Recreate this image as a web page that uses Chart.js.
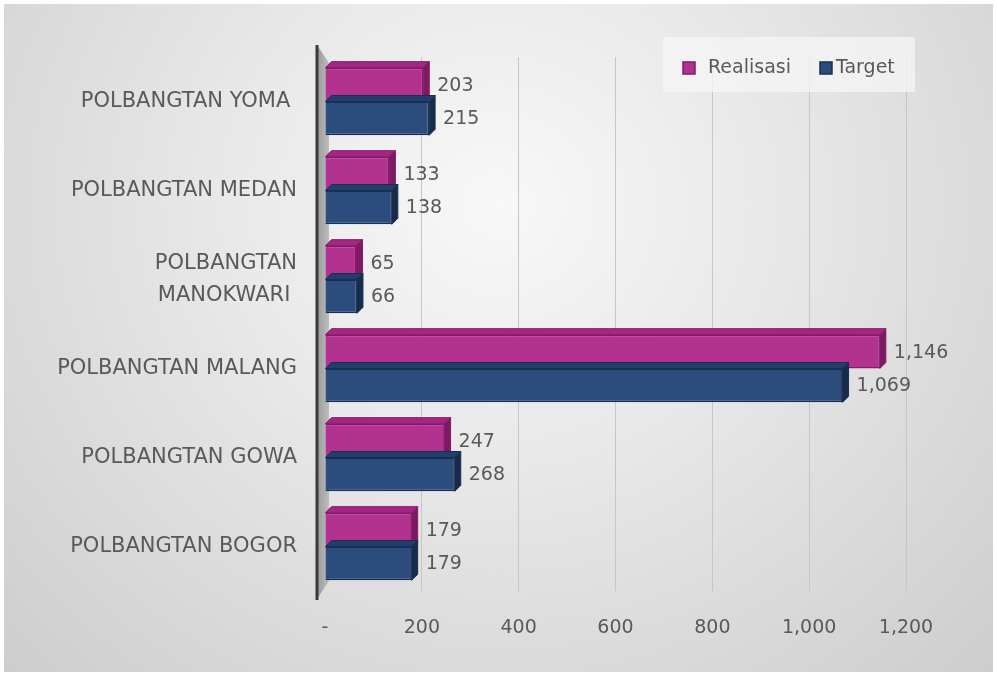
<!DOCTYPE html>
<html>
<head>
<meta charset="utf-8">
<script src="https://cdn.jsdelivr.net/npm/chart.js@4.4.1/dist/chart.umd.min.js"></script>
<style>
  html, body { margin: 0; padding: 0; background: #fff; }
  #wrap {
    position: absolute; left: 4px; top: 4px; width: 989px; height: 668px;
    background: radial-gradient(ellipse at 50% 30%, #f8f8f8 0%, #e8e8e8 40%, #cdcdcd 100%);
  }
  canvas { display: block; }
</style>
</head>
<body>
<div id="wrap"><canvas id="chart"></canvas></div>
<script>
// categories, top to bottom
const categories = [
  "POLBANGTAN YOMA ",
  "POLBANGTAN MEDAN",
  ["POLBANGTAN", "MANOKWARI "],
  "POLBANGTAN MALANG",
  "POLBANGTAN GOWA",
  "POLBANGTAN BOGOR"
];
const realisasi = [203, 133, 65, 1146, 247, 179];
const target = [215, 138, 66, 1069, 268, 179];
const xTicks = [0, 200, 400, 600, 800, 1000, 1200];

const seriesNames = ["Realisasi", "Target"];
const frontColors = ["#b3318f", "#2b4c7c"];
const borderColors = ["#86186a", "#172f52"];
const topColors = ["#a52682", "#213f6a"];
const sideColors = ["#7c1b62", "#172c4b"];

const FONT = "'DejaVu Sans', sans-serif";
const TEXT = "#595959";
const depth = { dx: 6, dy: -6 };

const fmt = v => v === 0 ? "-" : v.toLocaleString("en-US");

// side wall + dark axis line on the left of the plot
const wallPlugin = {
  id: "wall",
  beforeDatasetsDraw(chart) {
    const { ctx, chartArea: a } = chart;
    ctx.save();
    const g = ctx.createLinearGradient(a.left - 8, 0, a.left + 4, 0);
    g.addColorStop(0, "#9a9a9a");
    g.addColorStop(1, "#bdbdbd");
    ctx.fillStyle = g;
    ctx.beginPath();
    ctx.moveTo(a.left - 8, a.top - 12);
    ctx.lineTo(a.left + 4, a.top + 6);
    ctx.lineTo(a.left + 4, a.bottom - 10);
    ctx.lineTo(a.left - 8, a.bottom + 8);
    ctx.closePath();
    ctx.fill();
    ctx.strokeStyle = "#3a3a3a";
    ctx.lineWidth = 3;
    ctx.beginPath();
    ctx.moveTo(a.left - 8, a.top - 12);
    ctx.lineTo(a.left - 8, a.bottom + 9);
    ctx.stroke();
    ctx.restore();
  }
};

// top and side faces of each bar, then value labels
const bar3dPlugin = {
  id: "bar3d",
  afterDatasetsDraw(chart) {
    const ctx = chart.ctx;
    ctx.save();
    chart.data.datasets.forEach((ds, i) => {
      chart.getDatasetMeta(i).data.forEach(bar => {
        const p = bar.getProps(["x", "y", "base", "height"], true);
        const top = p.y - p.height / 2, bottom = p.y + p.height / 2;
        ctx.lineWidth = 1;
        ctx.strokeStyle = borderColors[i];
        ctx.fillStyle = topColors[i];
        ctx.beginPath();
        ctx.moveTo(p.base, top);
        ctx.lineTo(p.base + depth.dx, top + depth.dy);
        ctx.lineTo(p.x + depth.dx, top + depth.dy);
        ctx.lineTo(p.x, top);
        ctx.closePath();
        ctx.fill();
        ctx.stroke();
        ctx.fillStyle = sideColors[i];
        ctx.beginPath();
        ctx.moveTo(p.x, top);
        ctx.lineTo(p.x + depth.dx, top + depth.dy);
        ctx.lineTo(p.x + depth.dx, bottom + depth.dy);
        ctx.lineTo(p.x, bottom);
        ctx.closePath();
        ctx.fill();
        ctx.stroke();
      });
    });
    ctx.fillStyle = TEXT;
    ctx.font = "19px " + FONT;
    ctx.textAlign = "left";
    ctx.textBaseline = "middle";
    chart.data.datasets.forEach((ds, i) => {
      chart.getDatasetMeta(i).data.forEach((bar, j) => {
        const p = bar.getProps(["x", "y"], true);
        ctx.fillText(fmt(ds.data[j]), p.x + depth.dx + 8, p.y + 1);
      });
    });
    ctx.restore();
  }
};

// legend box in the top right corner
const legendPlugin = {
  id: "legendBox",
  afterDatasetsDraw(chart) {
    const { ctx, chartArea: a } = chart;
    ctx.save();
    const right = a.right + 9, top = a.top - 20;
    const left = right - 252;
    ctx.fillStyle = "rgba(245,245,245,0.75)";
    ctx.fillRect(left, top, 252, 55);
    ctx.font = "19px " + FONT;
    ctx.textBaseline = "middle";
    ctx.textAlign = "left";
    let x = left + 20;
    const cy = top + 31;
    seriesNames.forEach((name, i) => {
      ctx.fillStyle = frontColors[i];
      ctx.strokeStyle = borderColors[i];
      ctx.lineWidth = 1.5;
      ctx.fillRect(x, cy - 6, 12, 12);
      ctx.strokeRect(x, cy - 6, 12, 12);
      ctx.fillStyle = TEXT;
      ctx.fillText(name, x + (i === 0 ? 25 : 16), cy);
      x += 137;
    });
    ctx.restore();
  }
};

new Chart(document.getElementById("chart"), {
  type: "bar",
  data: {
    labels: categories,
    datasets: [
      { label: seriesNames[0], data: realisasi, backgroundColor: frontColors[0], borderColor: borderColors[0], borderWidth: 1.5 },
      { label: seriesNames[1], data: target, backgroundColor: frontColors[1], borderColor: borderColors[1], borderWidth: 1.5 }
    ]
  },
  options: {
    indexAxis: "y",
    responsive: true,
    maintainAspectRatio: false,
    animation: false,
    datasets: { bar: { categoryPercentage: 0.76, barPercentage: 1.0 } },
    layout: { padding: { top: 53, right: 87, left: 0, bottom: 21 } },
    plugins: { legend: { display: false }, tooltip: { enabled: false } },
    scales: {
      x: {
        min: 0, max: 1200,
        afterBuildTicks: s => { s.ticks = xTicks.map(v => ({ value: v })); },
        afterFit: s => { s.height = 60; },
        border: { display: false },
        grid: {
          drawTicks: false,
          color: c => c.tick && c.tick.value === 0 ? "rgba(0,0,0,0)" : "#c6c6c6",
          lineWidth: 1
        },
        ticks: { padding: 26, color: TEXT, font: { family: FONT, size: 19 }, callback: v => fmt(v) }
      },
      y: {
        afterFit: s => { s.width = 321; },
        border: { display: false },
        grid: { display: false },
        ticks: { padding: 20, color: TEXT, font: { family: FONT, size: 21, lineHeight: 1.5 } }
      }
    }
  },
  plugins: [wallPlugin, bar3dPlugin, legendPlugin]
});
</script>
</body>
</html>
